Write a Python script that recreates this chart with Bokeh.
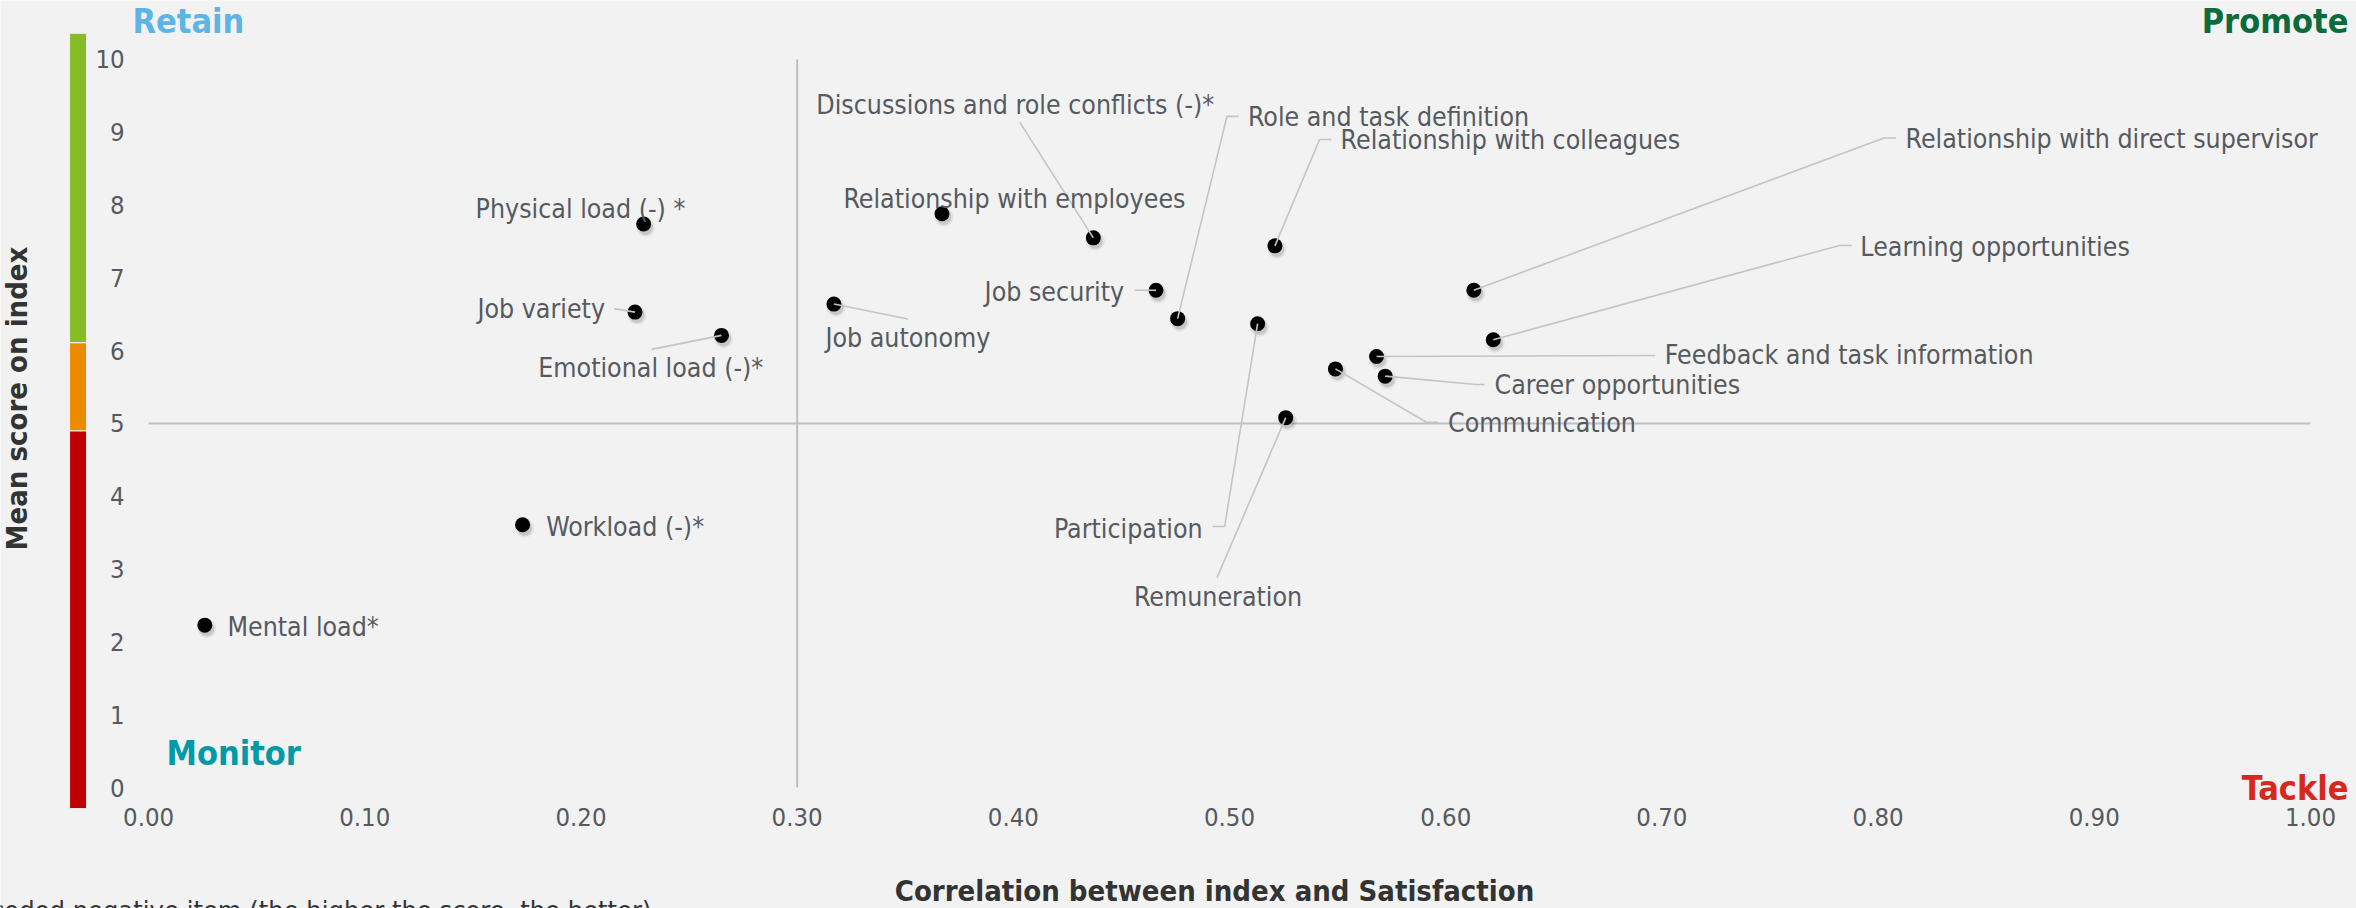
import math

from bokeh.plotting import figure
from bokeh.models import Range1d, LinearAxis, FixedTicker, NumeralTickFormatter, Label
from bokeh.embed import file_html
from bokeh.resources import INLINE

# ---------------------------------------------------------------- data
items = [
    "Mental load*", "Workload (-)*", "Physical load (-) *", "Job variety",
    "Emotional load (-)*", "Job autonomy", "Relationship with employees",
    "Discussions and role conflicts (-)*", "Job security", "Role and task definition",
    "Participation", "Relationship with colleagues", "Remuneration", "Communication",
    "Feedback and task information", "Career opportunities",
    "Relationship with direct supervisor", "Learning opportunities",
]
correlation = [0.026, 0.173, 0.229, 0.225, 0.265, 0.317, 0.367, 0.437, 0.466, 0.476,
               0.513, 0.521, 0.526, 0.549, 0.568, 0.572, 0.613, 0.622]
mean_score = [2.23, 3.61, 7.74, 6.53, 6.21, 6.64, 7.88, 7.55, 6.83, 6.44,
              6.37, 7.44, 5.08, 5.75, 5.92, 5.65, 6.83, 6.15]

x_ticks = [0.0, 0.1, 0.2, 0.3, 0.4, 0.5, 0.6, 0.7, 0.8, 0.9, 1.0]
y_ticks = [0, 1, 2, 3, 4, 5, 6, 7, 8, 9, 10]

corr_split = 0.30     # vertical quadrant divider
score_split = 5       # horizontal quadrant divider

# score bands shown as a coloured bar beside the y axis
band_bottom = [-0.29, 4.90, 6.11]
band_top = [4.90, 6.11, 10.36]
band_color = ["#c00000", "#ec8b00", "#86bc25"]

x_title = "Correlation between index and Satisfaction"
y_title = "Mean score on index"
footnote = "* Recoded negative item (the higher the score, the better)"

# ---------------------------------------------------------------- canvas
W, H = 2356, 908
X_START, X_END = -0.0685, 1.0213
Y_START, Y_END = -1.662, 10.810
PX_X = W / (X_END - X_START)
PX_Y = H / (Y_END - Y_START)


def cx(px):
    """canvas pixel column -> x data value"""
    return X_START + px / PX_X


def cy(py):
    """canvas pixel row -> y data value"""
    return Y_END - py / PX_Y


FONT = "DejaVu Sans Condensed"
TEXT_GREY = "#565a5f"
LINE_GREY = "#c4c4c6"

p = figure(width=W, height=H, x_range=Range1d(X_START, X_END), y_range=Range1d(Y_START, Y_END),
           x_axis_type=None, y_axis_type=None, output_backend="svg", toolbar_location=None,
           min_border=0)
p.background_fill_color = "#f2f2f2"
p.border_fill_color = "#f2f2f2"
p.outline_line_color = None

# axes pinned to the data origin so the frame can span the whole canvas
xaxis = LinearAxis(fixed_location=0, ticker=FixedTicker(ticks=x_ticks),
                   formatter=NumeralTickFormatter(format="0.00"))
yaxis = LinearAxis(fixed_location=0, ticker=FixedTicker(ticks=y_ticks),
                   formatter=NumeralTickFormatter(format="0"))
for ax in (xaxis, yaxis):
    ax.axis_line_color = None
    ax.major_tick_line_color = None
    ax.minor_tick_line_color = None
    ax.major_tick_in = 0
    ax.major_tick_out = 0
    ax.major_label_text_font = FONT
    ax.major_label_text_font_size = "25.5px"
    ax.major_label_text_color = TEXT_GREY
xaxis.major_label_standoff = 20
yaxis.major_label_standoff = 24
p.add_layout(xaxis, "below")
p.add_layout(yaxis, "left")

# coloured score band
p.quad(left=-79 / PX_X, right=-62 / PX_X, bottom=band_bottom, top=band_top,
       fill_color=band_color, line_color="#f2f2f2", line_width=1)

# quadrant dividers
p.segment(x0=[corr_split], y0=[y_ticks[0]], x1=[corr_split], y1=[y_ticks[-1]],
          line_color="#bfbfc3", line_width=2)
p.segment(x0=[x_ticks[0]], y0=[score_split], x1=[x_ticks[-1]], y1=[score_split],
          line_color="#bfbfc3", line_width=2)

# points with a soft drop shadow
sh_x = [v + 2 / PX_X for v in correlation]
sh_y = [v - 3.5 / PX_Y for v in mean_score]
p.scatter(sh_x, sh_y, size=19, color="#000000", alpha=0.06, line_color=None)
p.scatter(sh_x, sh_y, size=15, color="#000000", alpha=0.12, line_color=None)
p.scatter(correlation, mean_score, size=15, color="#000000", line_color=None)

# label placement: (dx, dy in px from the point to the text anchor, alignment,
# leader polyline offsets in px)
layout = {
    "Mental load*": (22.6, 1.6, "left", None),
    "Workload (-)*": (23.6, 1.6, "left", None),
    "Physical load (-) *": (41.7, -15.6, "right", None),
    "Job variety": (-30, -3.4, "right", [(-21, -3.5), (0, 0)]),
    "Emotional load (-)*": (-70.7, 32, "center", [(-70, 14), (0, 0)]),
    "Job autonomy": (74, 33.4, "center", [(0, 0), (74, 15)]),
    "Relationship with employees": (-98.6, -15.7, "left", None),
    "Discussions and role conflicts (-)*": (-277, -133.4, "left", [(-73.4, -115.4), (0, 0)]),
    "Job security": (-31.9, 1, "right", [(-21.6, 0), (0, 0)]),
    "Role and task definition": (70.3, -202.3, "left", [(0, 0), (49.3, -202.3), (61, -202.3)]),
    "Participation": (-55, 204.4, "right", [(0, 0), (-33, 202.7), (-45, 202.7)]),
    "Relationship with colleagues": (65.7, -106.4, "left", [(0, 0), (44.7, -106.4), (56.3, -106.4)]),
    "Remuneration": (-67.7, 178.7, "center", [(0, 0), (-68.7, 160)]),
    "Communication": (112.6, 53.4, "left", [(0, 0), (91, 53.4), (102.3, 53.4)]),
    "Feedback and task information": (288.3, -1.7, "left", [(0, 0), (278.7, -1)]),
    "Career opportunities": (109.3, 8.3, "left", [(0, 0), (91, 8.3), (99.3, 8.3)]),
    "Relationship with direct supervisor": (431.7, -151.3, "left",
                                            [(0, 0), (410.2, -152.3), (422.2, -152.3)]),
    "Learning opportunities": (367.1, -93.3, "left", [(0, 0), (346.3, -94.3), (358.4, -94.3)]),
}

lead_xs, lead_ys = [], []
for name, xv, yv in zip(items, correlation, mean_score):
    dx, dy, align, leader = layout[name]
    if leader:
        lead_xs.append([xv + ox / PX_X for ox, oy in leader])
        lead_ys.append([yv - oy / PX_Y for ox, oy in leader])
    p.add_layout(Label(x=xv + dx / PX_X, y=yv - dy / PX_Y, text=name, text_align=align,
                       text_baseline="alphabetic", text_font=FONT, text_font_size="26.5px",
                       text_color=TEXT_GREY))

p.multi_line(lead_xs, lead_ys, line_color=LINE_GREY, line_width=1.6)

# quadrant names
quadrants = [
    ("Retain", 132, 20, "left", "#5db4e6"),
    ("Promote", 2348, 20, "right", "#0b6b3a"),
    ("Monitor", 166, 752, "left", "#0099a8"),
    ("Tackle", 2348, 787, "right", "#d7281c"),
]
for text, px, py, align, color in quadrants:
    p.add_layout(Label(x=cx(px), y=cy(py), text=text, text_align=align,
                       text_baseline="alphabetic", text_font=FONT, text_font_style="bold",
                       text_font_size="34px", text_color=color))

# axis titles and footnote
p.add_layout(Label(x=cx(1214), y=cy(890), text=x_title, text_align="center",
                   text_baseline="alphabetic", text_font=FONT, text_font_style="bold",
                   text_font_size="29px", text_color="#333333"))
p.add_layout(Label(x=cx(16), y=cy(398), text=y_title, angle=math.pi / 2, text_align="center",
                   text_baseline="alphabetic", text_font=FONT, text_font_style="bold",
                   text_font_size="29px", text_color="#333333"))
p.add_layout(Label(x=cx(-60), y=cy(910), text=footnote, text_align="left",
                   text_baseline="alphabetic", text_font=FONT, text_font_size="27px",
                   text_color="#333333"))

open("out.html", "w").write(file_html(p, INLINE))
